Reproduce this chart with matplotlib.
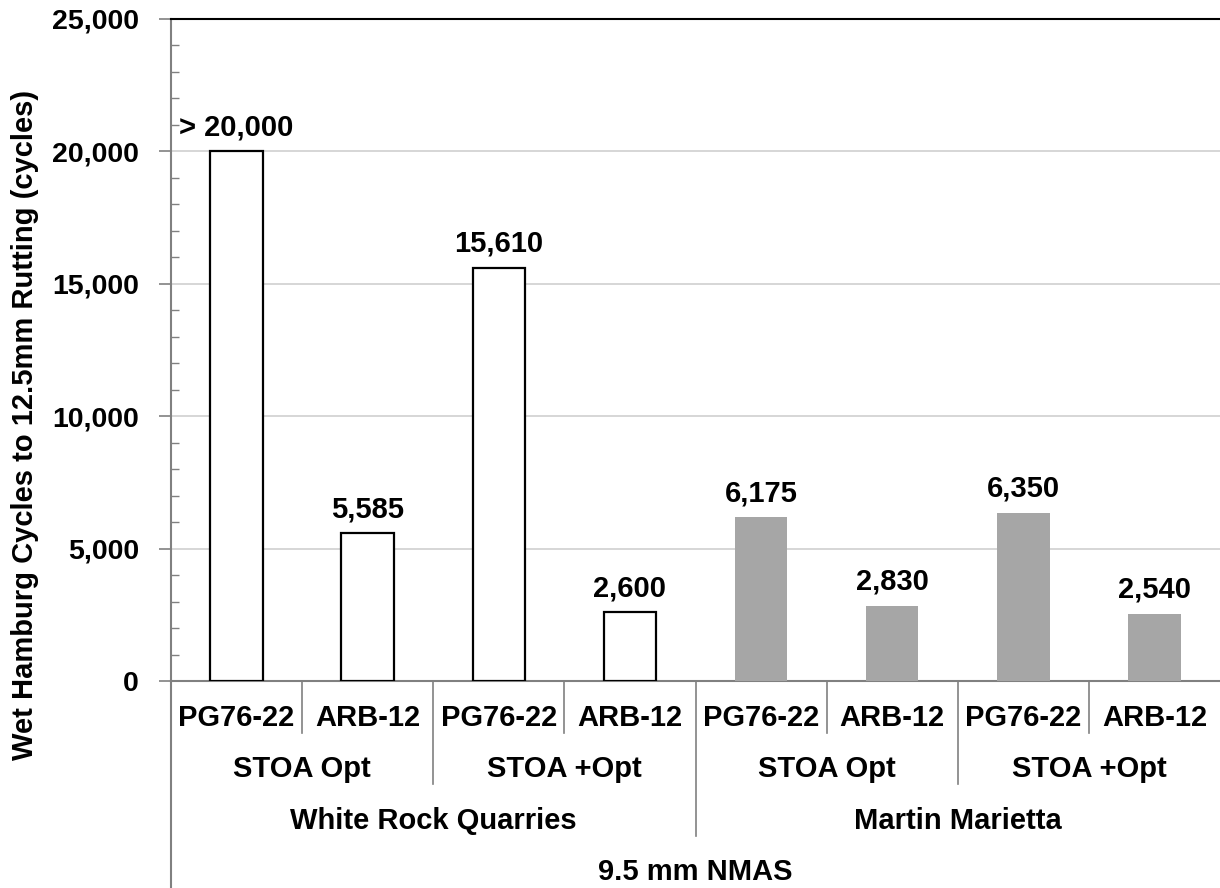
import numpy as np
import matplotlib.pyplot as plt
from matplotlib.ticker import MultipleLocator, FuncFormatter

plt.rcParams['font.family'] = ['Liberation Sans', 'DejaVu Sans']
plt.rcParams['font.weight'] = 'bold'

# data
binders = ["PG76-22", "ARB-12", "PG76-22", "ARB-12", "PG76-22", "ARB-12", "PG76-22", "ARB-12"]
designs = ["STOA Opt", "STOA +Opt", "STOA Opt", "STOA +Opt"]
sources = ["White Rock Quarries", "Martin Marietta"]
cycles = [20000, 5585, 15610, 2600, 6175, 2830, 6350, 2540]
value_labels = ["> 20,000", "5,585", "15,610", "2,600", "6,175", "2,830", "6,350", "2,540"]
group_title = "9.5 mm NMAS"

fig = plt.figure(figsize=(12.2, 8.88), dpi=100)
ax = fig.add_axes([171 / 1220, 1 - 681 / 888, 1 - 171 / 1220, (681 - 19) / 888])

x = np.arange(len(cycles))
for i, v in enumerate(cycles):
    if i < 4:
        ax.bar(x[i], v, width=0.4, facecolor="white", edgecolor="black", linewidth=1.6, zorder=3)
    else:
        ax.bar(x[i], v, width=0.4, facecolor="#A6A6A6", edgecolor="none", zorder=3)
    ax.text(x[i], v + 380, value_labels[i], ha="center", va="bottom", fontsize=21, fontweight="bold")

ax.set_xlim(-0.5, len(cycles) - 0.5)
ax.set_ylim(0, 25000)
ax.yaxis.set_major_locator(MultipleLocator(5000))
ax.yaxis.set_minor_locator(MultipleLocator(1000))
ax.yaxis.set_major_formatter(FuncFormatter(lambda v, p: f"{int(v):,}"))
ax.tick_params(axis="y", which="major", direction="out", length=9, width=1.2, color="#808080",
               labelsize=20.5, pad=14)
ax.tick_params(axis="y", which="minor", direction="in", length=6, width=1.0, color="#808080")
ax.set_xticks([])
ax.grid(axis="y", which="major", color="#D0D0D0", linewidth=1.2, zorder=0)

ax.spines["right"].set_visible(False)
ax.spines["top"].set_color("black")
ax.spines["top"].set_linewidth(1.5)
ax.spines["left"].set_color("#808080")
ax.spines["left"].set_linewidth(1.5)
ax.spines["bottom"].set_color("#808080")
ax.spines["bottom"].set_linewidth(1.5)

trans = ax.get_xaxis_transform()

# category labels, three levels
for i, b in enumerate(binders):
    ax.text(x[i], -0.068, b, transform=trans, ha="center", va="baseline", fontsize=21, fontweight="bold")
for j, d in enumerate(designs):
    ax.text(2 * j + 0.5, -0.1446, d, transform=trans, ha="center", va="baseline", fontsize=21, fontweight="bold")
for k, s in enumerate(sources):
    ax.text(4 * k + 1.5, -0.2236, s, transform=trans, ha="center", va="baseline", fontsize=21, fontweight="bold")
ax.text(3.5, -0.3006, group_title, transform=trans, ha="center", va="baseline", fontsize=21, fontweight="bold")

# separators between categories
for b in np.arange(0.5, len(cycles) - 0.5, 1.0):
    if b == 3.5:
        y_end = -0.2341
    elif b in (1.5, 5.5):
        y_end = -0.1556
    else:
        y_end = -0.0781
    ax.plot([b, b], [0, y_end], transform=trans, color="#808080", linewidth=1.2, clip_on=False)
ax.plot([-0.5, -0.5], [0, -0.32], transform=trans, color="#808080", linewidth=1.5, clip_on=False)

fig.text(25 / 1220, 1 - 424.5 / 888, "Wet Hamburg Cycles to 12.5mm Rutting (cycles)", rotation=90,
         ha="center", va="center", fontsize=21, fontweight="bold")

fig.savefig("out.png", dpi=100)
